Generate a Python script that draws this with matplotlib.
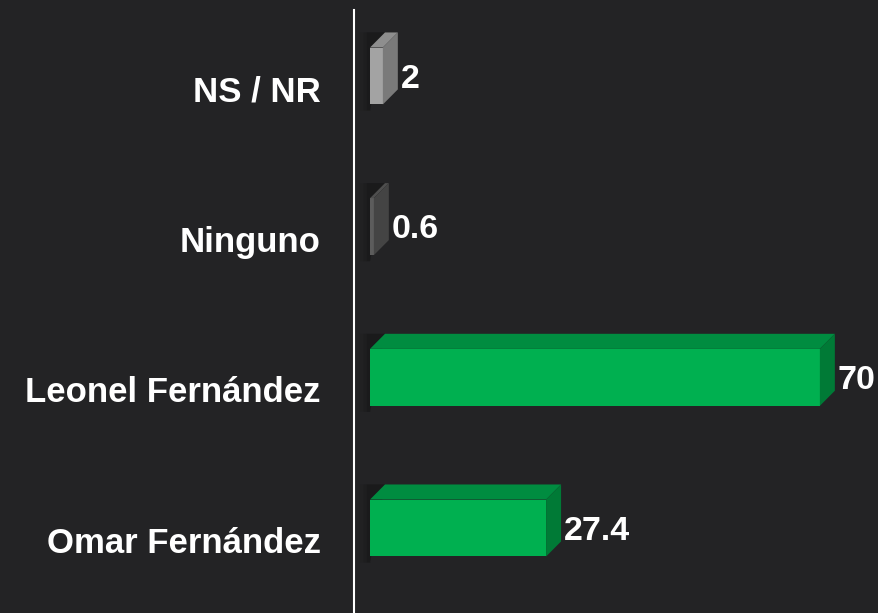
import matplotlib
matplotlib.use("Agg")
import matplotlib.pyplot as plt
from matplotlib.patches import Polygon

# datos
categorias = ["NS / NR", "Ninguno", "Leonel Fernández", "Omar Fernández"]
valores = [2, 0.6, 70, 27.4]
etiquetas = ["2", "0.6", "70", "27.4"]

# colores (frente, arriba, lado)
col_frente = ["#a3a3a3", "#5c5c5c", "#00b050", "#00b050"]
col_arriba = ["#8e8e8e", "#4e4e4e", "#008c40", "#008c40"]
col_lado = ["#7a7a7a", "#444444", "#007a36", "#007a36"]

fondo = "#232325"
plt.rcParams['font.family'] = ['Liberation Sans', 'DejaVu Sans']

fig = plt.figure(figsize=(8.79, 6.13), dpi=100, facecolor=fondo)
ax = fig.add_axes([354/879, 0, 1 - 354/879, 1 - 10/613])
ax.set_facecolor(fondo)

ax.set_xlim(-2.49, 79.2)
ax.set_ylim(3.484, -0.518)

alto = 0.378     # alto de la cara frontal
desp = 0.08      # la barra queda un poco mas arriba que la etiqueta
dx, dy = 2.33, 0.10   # profundidad 3D

for i, (v, cf, ca, cl) in enumerate(zip(valores, col_frente, col_arriba, col_lado)):
    yc = i - desp
    top = yc - alto/2
    bot = yc + alto/2
    # sombra suave a la izquierda
    for k, a in zip([1.6, 1.0, 0.5], [0.08, 0.12, 0.18]):
        ax.add_patch(Polygon([(-k, top - dy), (dx, top - dy), (0, bot + 0.04), (-k, bot + 0.04)],
                             closed=True, color="#0a0a0a", alpha=a, lw=0, zorder=1))
    ax.barh(yc, v, height=alto, left=0, color=cf, zorder=3, edgecolor="none")
    ax.add_patch(Polygon([(0, top), (v, top), (v + dx, top - dy), (dx, top - dy)],
                         closed=True, facecolor=ca, edgecolor="none", zorder=3))
    ax.add_patch(Polygon([(v, top), (v + dx, top - dy), (v + dx, bot - dy), (v, bot)],
                         closed=True, facecolor=cl, edgecolor="none", zorder=3))
    ax.text(v + dx + 0.4, yc + 0.02, etiquetas[i], color="white", fontsize=24.5,
            fontweight="bold", va="center", ha="left", zorder=4)

ax.set_yticks(range(len(categorias)))
ax.set_yticklabels(categorias, color="white", fontsize=25, fontweight="bold")
ax.tick_params(axis="y", length=0, pad=24)
ax.set_xticks([])

for s in ["top", "right", "bottom"]:
    ax.spines[s].set_visible(False)
ax.spines["left"].set_color("white")
ax.spines["left"].set_linewidth(1.5)
ax.spines["left"].set_zorder(5)

fig.savefig("out.png", dpi=100, facecolor=fondo)
